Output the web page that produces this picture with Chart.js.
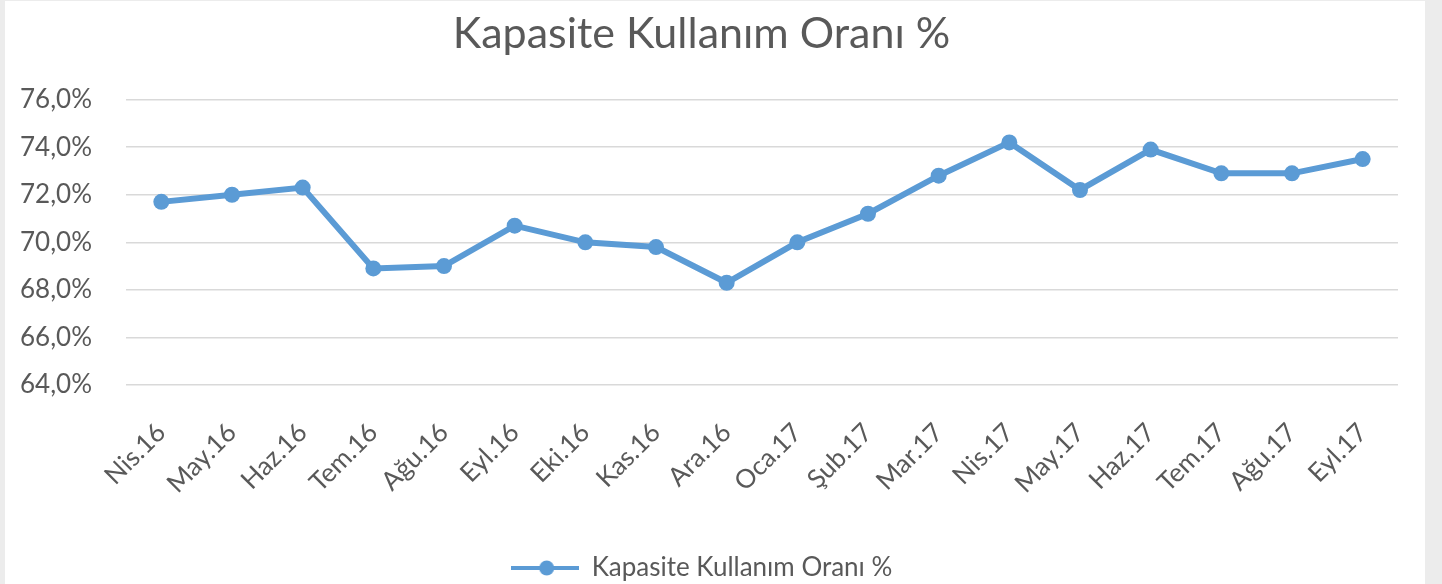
<!DOCTYPE html>
<html>
<head>
<meta charset="utf-8">
<script src="https://cdn.jsdelivr.net/npm/chart.js@4.4.1/dist/chart.umd.min.js"></script>
<style>
  html, body { margin:0; padding:0; background:#ececec; width:1442px; height:584px; overflow:hidden; }
  #wrap { position:absolute; left:5px; top:1px; width:1420px; height:583px; background:#ffffff; }
</style>
</head>
<body>
<div id="wrap"><canvas id="c"></canvas></div>
<script>
const categories = ["Nis.16","May.16","Haz.16","Tem.16","Ağu.16","Eyl.16","Eki.16","Kas.16","Ara.16",
                    "Oca.17","Şub.17","Mar.17","Nis.17","May.17","Haz.17","Tem.17","Ağu.17","Eyl.17"];
const kapasiteValues = [71.7, 72.0, 72.3, 68.9, 69.0, 70.7, 70.0, 69.8, 68.3,
                        70.0, 71.2, 72.8, 74.2, 72.2, 73.9, 72.9, 72.9, 73.5];
const yTicks = [64, 66, 68, 70, 72, 74, 76];
const seriesName = "Kapasite Kullanım Oranı %";
const chartTitle = "Kapasite Kullanım Oranı %";

const BLUE = '#5B9BD5';
const TEXT = '#595959';
const FONT = 'Lato, "Open Sans", sans-serif';

// legend marker: line with a dot
const mk = document.createElement('canvas');
mk.width = 68; mk.height = 18;
const mctx = mk.getContext('2d');
mctx.strokeStyle = BLUE; mctx.lineWidth = 4;
mctx.beginPath(); mctx.moveTo(0, 9); mctx.lineTo(68, 9); mctx.stroke();
mctx.fillStyle = BLUE;
mctx.beginPath(); mctx.arc(36, 9, 7.5, 0, Math.PI * 2); mctx.fill();

new Chart(document.getElementById('c'), {
  type: 'line',
  data: {
    labels: categories,
    datasets: [{
      label: seriesName,
      data: kapasiteValues,
      borderColor: BLUE,
      backgroundColor: BLUE,
      borderWidth: 6,
      pointRadius: 8,
      pointHoverRadius: 8,
      pointBorderWidth: 0,
      pointBackgroundColor: BLUE,
      tension: 0,
      fill: false,
      pointStyle: 'circle'
    }]
  },
  options: {
    responsive: true,
    maintainAspectRatio: false,
    animation: false,
    layout: { padding: { left: 0, right: 27, top: 0, bottom: -7 } },
    plugins: {
      title: {
        display: true,
        text: chartTitle,
        color: TEXT,
        font: { family: FONT, size: 43, weight: 'normal' },
        padding: { top: 7, bottom: 40 }
      },
      legend: {
        display: true,
        position: 'bottom',
        labels: {
          color: TEXT,
          font: { family: FONT, size: 26 },
          usePointStyle: true,
          pointStyleWidth: 68,
          padding: 8,
          generateLabels: (chart) => [{
            text: seriesName,
            pointStyle: mk,
            fillStyle: BLUE,
            strokeStyle: BLUE,
            lineWidth: 0,
            hidden: false,
            datasetIndex: 0,
            fontColor: TEXT
          }]
        }
      },
      tooltip: { enabled: false }
    },
    scales: {
      x: {
        offset: true,
        grid: { display: false, drawTicks: false },
        border: { display: false },
        ticks: {
          color: TEXT,
          font: { family: FONT, size: 26 },
          maxRotation: 45,
          minRotation: 45,
          padding: 32,
          autoSkip: false
        },
        afterFit: (s) => { s.height = 162; }
      },
      y: {
        min: 64,
        max: 76,
        afterBuildTicks: (s) => { s.ticks = yTicks.map(v => ({ value: v })); },
        grid: { color: '#d9d9d9', lineWidth: 1.5, drawTicks: false },
        border: { display: false },
        ticks: {
          color: TEXT,
          font: { family: FONT, size: 26 },
          padding: 34,
          callback: (v) => v.toFixed(1).replace('.', ',') + '%'
        },
        afterFit: (s) => { s.width = 121; }
      }
    }
  }
});
</script>
</body>
</html>
